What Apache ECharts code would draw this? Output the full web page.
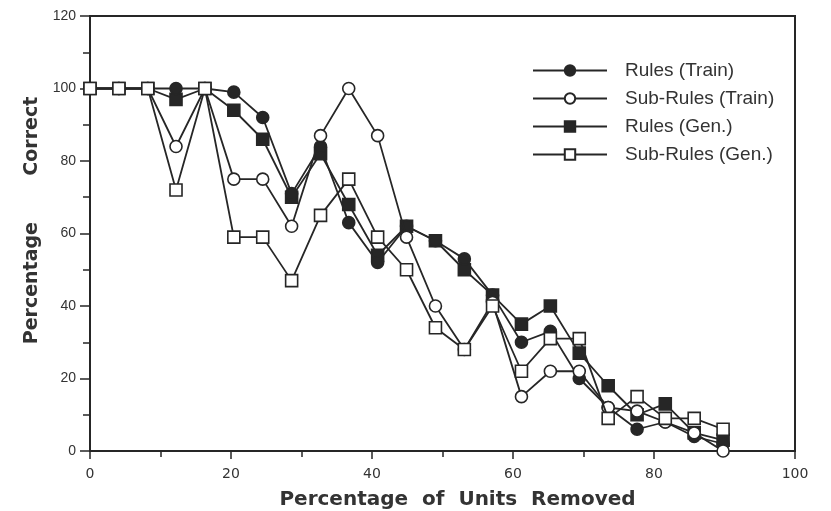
<!DOCTYPE html>
<html>
<head>
<meta charset="utf-8">
<script src="https://cdn.jsdelivr.net/npm/echarts@6/dist/echarts.min.js"></script>
<style>
html,body{margin:0;padding:0;background:#fff;}
#chart{width:831px;height:511px;}
</style>
</head>
<body>
<div id="chart"></div>
<script>
var xValues = [0,4.1,8.2,12.2,16.3,20.4,24.5,28.6,32.7,36.7,40.8,44.9,49.0,53.1,57.1,61.2,65.3,69.4,73.5,77.6,81.6,85.7,89.8];
var rulesTrain = [100,100,100,100,100,99,92,71,84,63,52,62,58,53,43,30,33,20,12,6,8,4,2];
var subRulesTrain = [100,100,100,84,100,75,75,62,87,100,87,59,40,28,41,15,22,22,12,11,8,5,0];
var rulesGen = [100,100,100,97,100,94,86,70,82,68,54,62,58,50,43,35,40,27,18,10,13,5,3];
var subRulesGen = [100,100,100,72,100,59,59,47,65,75,59,50,34,28,40,22,31,31,9,15,9,9,6];
var seriesNames = ['Rules (Train)','Sub-Rules (Train)','Rules (Gen.)','Sub-Rules (Gen.)'];
var yTicks = [0,20,40,60,80,100,120];

function pairs(vals){ return xValues.map(function(x,i){ return [x, vals[i]]; }); }

var ink = '#262626';
function mk(name, vals, symbol, filled, z){
  return {
    name: name, type: 'line', data: pairs(vals), symbol: symbol,
    symbolSize: 12, z: z,
    lineStyle: {color: ink, width: 1.8},
    itemStyle: {color: filled ? ink : '#fff', borderColor: ink, borderWidth: 1.6},
    emphasis: {disabled: true}, animation: false
  };
}

var chart = echarts.init(document.getElementById('chart'));
chart.setOption({
  backgroundColor: '#fff',
  animation: false,
  grid: {left: 90, right: 36, top: 16, bottom: 60, outerBoundsMode: 'none', containLabel: false,
    show: true, borderColor: ink, borderWidth: 2, backgroundColor: 'transparent'},
  legend: {
    orient: 'vertical', left: 527, top: 56, itemWidth: 74, itemHeight: 13, itemGap: 9,
    data: seriesNames,
    textStyle: {fontFamily: 'Liberation Sans, Arial, sans-serif', fontSize: 19, color: '#333', padding: [0, 0, 0, 13]}
  },
  xAxis: {
    type: 'value', min: 0, max: 100, interval: 20,
    name: 'Percentage  of  Units  Removed', nameLocation: 'middle', nameGap: 39,
    nameTextStyle: {fontFamily: 'DejaVu Sans, sans-serif', fontSize: 20, fontWeight: 'bold', color: '#333', padding: [0, 0, 0, 30]},
    axisLine: {lineStyle: {color: ink, width: 2}},
    axisTick: {show: true, length: 8, lineStyle: {color: ink, width: 1.5}},
    minorTick: {show: true, splitNumber: 2, length: 6, lineStyle: {color: ink, width: 1.5}},
    splitLine: {show: false},
    axisLabel: {fontFamily: 'DejaVu Sans, sans-serif', fontSize: 14, color: '#333', margin: 16}
  },
  yAxis: {
    type: 'value', min: 0, max: 120, interval: 20,
    name: 'Percentage       Correct', nameLocation: 'middle', nameGap: 48,
    nameTextStyle: {fontFamily: 'DejaVu Sans, sans-serif', fontSize: 19, fontWeight: 'bold', color: '#333', padding: [0, 0, 0, 26]},
    axisLine: {show: true, lineStyle: {color: ink, width: 2}},
    axisTick: {show: true, length: 10, lineStyle: {color: ink, width: 1.5}},
    minorTick: {show: true, splitNumber: 2, length: 7, lineStyle: {color: ink, width: 1.5}},
    splitLine: {show: false},
    axisLabel: {fontFamily: 'Liberation Sans, Arial, sans-serif', fontSize: 14, color: '#333', margin: 14,
      formatter: function(v){ return yTicks.indexOf(v) >= 0 ? String(v) : ''; }}
  },
  series: [
    mk(seriesNames[2], rulesGen, 'rect', true, 2),
    mk(seriesNames[0], rulesTrain, 'circle', true, 3),
    mk(seriesNames[1], subRulesTrain, 'circle', false, 4),
    mk(seriesNames[3], subRulesGen, 'rect', false, 5)
  ]
});
</script>
</body>
</html>
